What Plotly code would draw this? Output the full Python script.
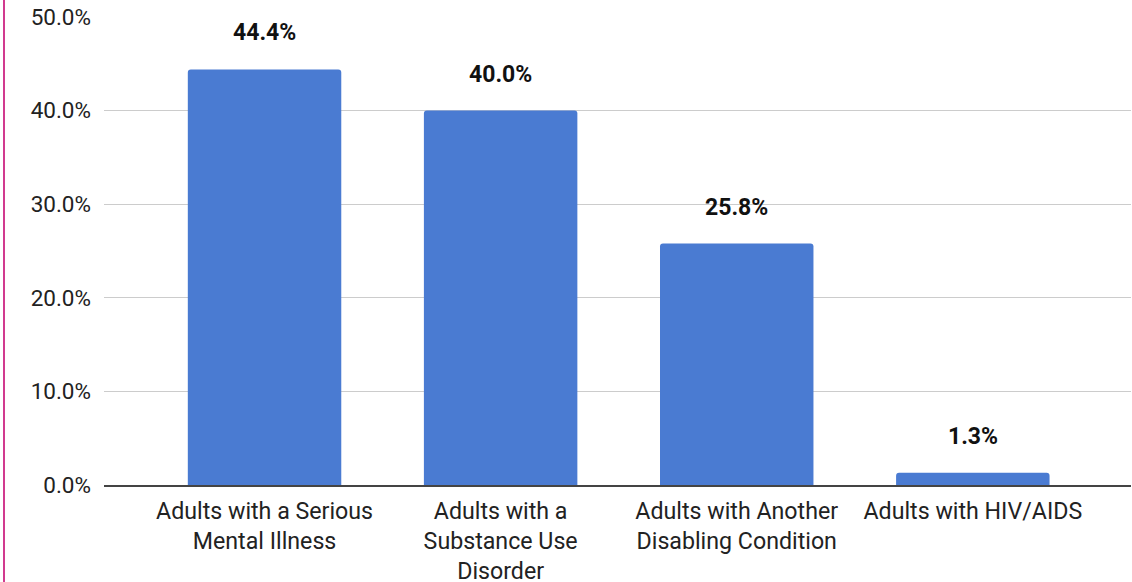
import plotly.graph_objects as go

categories = [
    "Adults with a Serious<br>Mental Illness",
    "Adults with a<br>Substance Use<br>Disorder",
    "Adults with Another<br>Disabling Condition",
    "Adults with HIV/AIDS",
]
values = [0.444, 0.400, 0.258, 0.013]
y_ticks = [0, 0.1, 0.2, 0.3, 0.4, 0.5]

W, H = 1132, 582
L, R, T, B = 104, 1, 17, 97

fig = go.Figure()
fig.add_trace(go.Bar(
    x=categories, y=values,
    marker=dict(color="#4a7bd2", line=dict(width=0)),
    width=0.65,
    hoverinfo="skip",
))

for c, v in zip(categories, values):
    fig.add_annotation(
        x=c, y=v, text=f"<b>{v*100:.1f}%</b>", showarrow=False,
        yanchor="bottom", yshift=21,
        font=dict(family="Roboto", size=23, color="#111111"),
    )

pw = W - L - R
ph = H - T - B
# pink left border of the card
fig.add_shape(type="line", xref="paper", yref="paper",
              x0=(4 - L) / pw, x1=(4 - L) / pw,
              y0=(H - B - H) / ph, y1=(H - B) / ph,
              line=dict(color="#d13a8f", width=2))

fig.update_layout(
    width=W, height=H,
    margin=dict(l=L, r=R, t=T, b=B, pad=0, autoexpand=False),
    paper_bgcolor="white", plot_bgcolor="white",
    showlegend=False,
    barcornerradius=3,
    font=dict(family="Roboto", size=23, color="#222222"),
    xaxis=dict(
        range=[-0.68, 3.67], automargin=False,
        showgrid=False, showline=True, linecolor="#444444", linewidth=2,
        ticks="", tickfont=dict(family="Roboto", size=23.2, color="#222222"),
        ticklabelstandoff=4,
    ),
    yaxis=dict(
        range=[0, 0.5], tickvals=y_ticks, tickformat=".1%", automargin=False,
        showgrid=True, gridcolor="#cccccc", gridwidth=1,
        zeroline=False, showline=False, ticks="",
        tickfont=dict(family="Roboto", size=22.5, color="#222222"),
        ticklabelstandoff=12,
    ),
)

fig.write_html("out.html")
